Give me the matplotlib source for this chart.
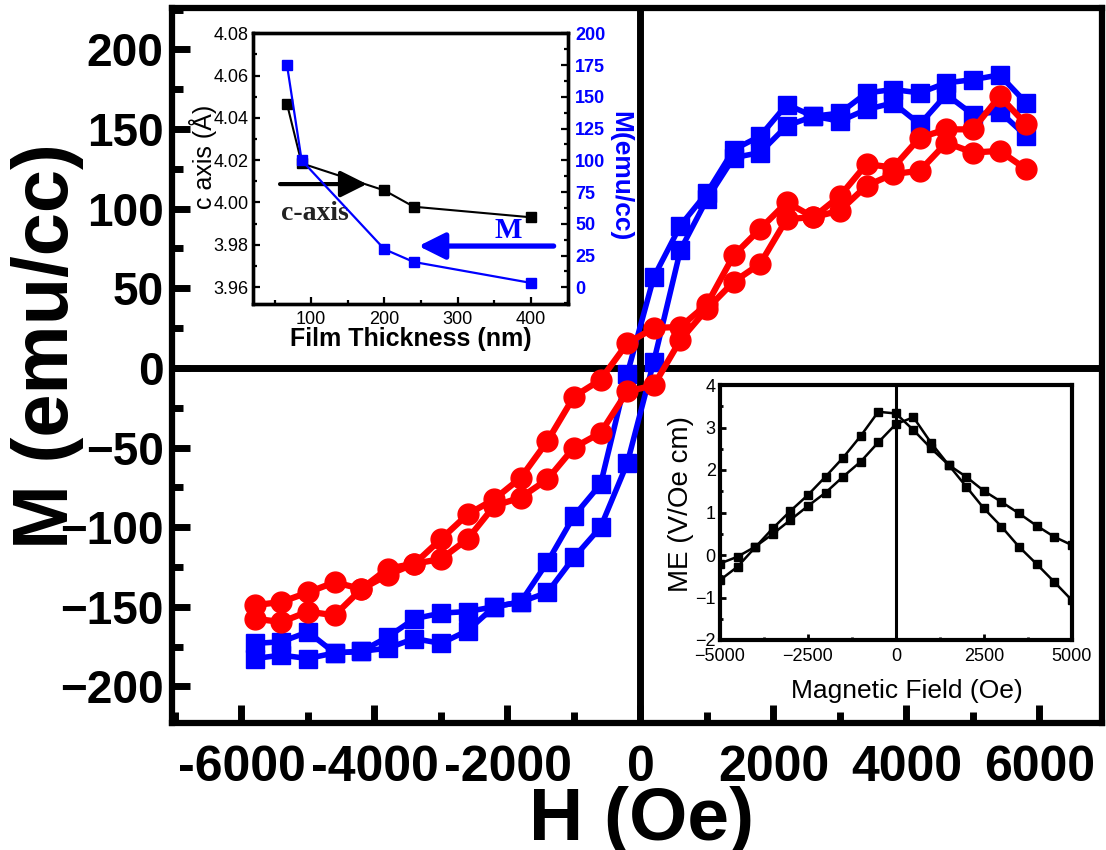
import numpy as np
import matplotlib
matplotlib.use('Agg')
import matplotlib.pyplot as plt
from matplotlib import font_manager
from matplotlib.ticker import MultipleLocator

# ---------------- data ----------------
H = [-5800, -5400, -5000, -4600, -4200, -3800, -3400, -3000, -2600, -2200,
     -1800, -1400, -1000, -600, -200, 200, 600, 1000, 1400, 1800,
     2200, 2600, 3000, 3400, 3800, 4200, 4600, 5000, 5400, 5800]

red_down = [-149, -147, -141, -134.6, -138.8, -126, -123, -107.5, -92, -82.5,
            -69, -46, -18, -7.5, 15.4, 25, 25.8, 40, 70.6, 87.3,
            104, 94.6, 108, 128, 125.8, 144.6, 149.8, 149.8, 170.6, 153]
red_up = [-157.5, -159.6, -153, -155.4, -139, -130, -123, -120, -107.5, -86.7,
          -81.4, -70, -50, -40.8, -14.8, -11, 17.5, 37, 54, 65.4,
          93.5, 94.6, 98.8, 114.4, 121.7, 123.8, 141.4, 135.2, 136.3, 124.8]

blue_down = [-173, -172, -165.8, -179, -178, -169, -157.5, -154, -153, -150,
             -147, -122, -93, -73, -4, 57, 89.4, 110, 137, 145.6,
             165.4, 158, 160, 172.7, 174.8, 172.7, 179, 181, 184, 166.4]
blue_up = [-182.5, -180.4, -182.5, -179, -178, -176, -170, -173, -165, -150,
           -147, -141, -119, -100, -60, 4, 74, 106, 132, 135.2,
           152, 158, 155, 162.3, 166.4, 153, 171.7, 159, 161, 145.6]

# inset 1: thickness dependence
thickness = [67, 87, 200, 240, 400]
c_axis = [4.0466, 4.0185, 4.0057, 3.998, 3.993]
M_thick = [175, 100, 30, 20, 3.5]

# inset 2: magnetoelectric coefficient
H_me = [-5000, -4500, -4000, -3500, -3000, -2500, -2000, -1500, -1000, -500, 0,
        500, 1000, 1500, 2000, 2500, 3000, 3500, 4000, 4500, 5000]
me_down = [-0.59, -0.275, 0.18, 0.627, 1.035, 1.412, 1.843, 2.29, 2.8, 3.37, 3.33,
           2.94, 2.51, 2.12, 1.84, 1.51, 1.25, 0.98, 0.69, 0.43, 0.235]
me_up = [-0.2, -0.04, 0.195, 0.494, 0.824, 1.153, 1.466, 1.843, 2.196, 2.65, 3.08,
         3.24, 2.64, 2.12, 1.61, 1.10, 0.67, 0.195, -0.21, -0.63, -1.06]

# ---------------- fonts ----------------
names = {f.name for f in font_manager.fontManager.ttflist}
sans = 'Liberation Sans' if 'Liberation Sans' in names else 'DejaVu Sans'
serif = 'Liberation Serif' if 'Liberation Serif' in names else 'DejaVu Serif'
plt.rcParams['font.family'] = [sans, 'DejaVu Sans']

W, Hpx = 1106, 850
fig = plt.figure(figsize=(W / 100, Hpx / 100), dpi=100, facecolor='white')


def box(l, t, r, b):
    return [l / W, 1 - b / Hpx, (r - l) / W, (b - t) / Hpx]


# ---------------- main axes ----------------
ax = fig.add_axes(box(172, 8, 1102, 723))
ax.plot(H, blue_down, '-s', color='#0000ff', lw=4, ms=13.5, zorder=3)
ax.plot(H, blue_up, '-s', color='#0000ff', lw=4, ms=13.5, zorder=3)
ax.plot(H, red_down, '-o', color='#ff0000', lw=4.5, ms=15, zorder=4)
ax.plot(H, red_up, '-o', color='#ff0000', lw=4.5, ms=15, zorder=4)
ax.axhline(0, color='black', lw=5, zorder=2)
ax.axvline(0, color='black', lw=5, zorder=2)

ax.set_xlim(-7045, 6940)
ax.set_ylim(-223, 226)
for s in ax.spines.values():
    s.set_linewidth(4.5)
ax.xaxis.set_major_locator(MultipleLocator(2000))
ax.xaxis.set_minor_locator(MultipleLocator(1000))
ax.yaxis.set_major_locator(MultipleLocator(50))
ax.yaxis.set_minor_locator(MultipleLocator(25))
ax.tick_params(axis='both', which='both', direction='in', width=5)
ax.tick_params(axis='both', which='major', length=13)
ax.tick_params(axis='both', which='minor', length=8)
ax.tick_params(axis='y', pad=6)
ax.tick_params(axis='x', pad=16)
for lab in ax.get_yticklabels():
    lab.set_fontsize(33)
    lab.set_fontweight('bold')
ax.set_xticks([-6000, -4000, -2000, 0, 2000, 4000, 6000])
ax.set_xticklabels(['-6000', '-4000', '-2000', '0', '2000', '4000', '6000'],
                   fontsize=36, fontweight='bold')
ax.set_ylabel('M (emu/cc)', fontsize=56, fontweight='bold', va='center')
ax.yaxis.set_label_coords((47 - 172) / 930, 1 - (346 - 8) / 715)
ax.set_xlabel('H (Oe)', fontsize=54, fontweight='bold', va='baseline')
ax.xaxis.set_label_coords(0.505, (723 - 840) / 715)

# ---------------- inset 1: c-axis and M vs thickness ----------------
ax1 = fig.add_axes(box(253.3, 33.3, 568.3, 304))
ax1.plot(thickness, c_axis, '-s', color='black', lw=1.5, ms=6.5)
ax1.set_xlim(21, 451)
ax1.set_ylim(3.952, 4.08)
ax1r = ax1.twinx()
ax1r.plot(thickness, M_thick, '-s', color='#0000ff', lw=1.6, ms=7)
ax1r.set_ylim(-13.1, 200)
for a in (ax1, ax1r):
    for s in a.spines.values():
        s.set_linewidth(2.4)
ax1.xaxis.set_major_locator(MultipleLocator(100))
ax1.xaxis.set_minor_locator(MultipleLocator(50))
ax1.yaxis.set_major_locator(MultipleLocator(0.02))
ax1.yaxis.set_minor_locator(MultipleLocator(0.01))
ax1.yaxis.set_major_formatter('{x:.2f}')
ax1r.yaxis.set_major_locator(MultipleLocator(25))
ax1r.yaxis.set_minor_locator(MultipleLocator(12.5))
ax1.tick_params(which='both', direction='in', width=1.6, labelsize=13)
ax1.tick_params(which='major', length=5)
ax1.tick_params(which='minor', length=3)
ax1.tick_params(axis='y', pad=3.5)
ax1.tick_params(axis='x', pad=5)
ax1r.tick_params(which='both', direction='in', width=1.6, labelsize=13,
                 labelcolor='#0000ff', pad=5)
ax1r.tick_params(which='major', length=5)
ax1r.tick_params(which='minor', length=3)
for lab in ax1r.get_yticklabels():
    lab.set_fontweight('bold')
ax1.set_xlabel('Film Thickness (nm)', fontsize=18, fontweight='bold', va='center')
ax1.xaxis.set_label_coords(0.5, (304 - 339) / 270.7)
ax1.set_ylabel('c axis (Å)', fontsize=18, va='center')
ax1.yaxis.set_label_coords((203 - 253.3) / 315, (304 - 157) / 270.7)
ax1r.set_ylabel('M(emu/cc)', fontsize=19, fontweight='bold', color='#0000ff',
                rotation=270, va='center')
ax1r.yaxis.set_label_coords((620 - 253.3) / 315, (304 - 176) / 270.7)

ax1.annotate('', xy=(176, 4.0087), xytext=(57.5, 4.0087),
             arrowprops=dict(arrowstyle='-|>,head_length=0.8,head_width=0.4',
                             lw=3, color='black', mutation_scale=20,
                             shrinkA=0, shrinkB=0))
ax1.text(59, 3.9917, 'c-axis', family=[serif, 'DejaVu Serif'], fontsize=20,
         fontweight='bold', color='#222222', ha='left', va='baseline')
ax1.annotate('', xy=(246.6, 3.9794), xytext=(431, 3.9794),
             arrowprops=dict(arrowstyle='-|>,head_length=0.8,head_width=0.4',
                             lw=3.8, color='#0000ff', mutation_scale=20,
                             shrinkA=0, shrinkB=0))
ax1.text(369, 3.9832, 'M', family=[serif, 'DejaVu Serif'], fontsize=21,
         fontweight='bold', color='#0000ff', ha='center', va='baseline')

# ---------------- inset 2: ME coefficient ----------------
ax2 = fig.add_axes(box(720, 385, 1071.7, 640))
ax2.plot(H_me, me_down, '-s', color='black', lw=1.8, ms=5.5)
ax2.plot(H_me, me_up, '-s', color='black', lw=1.8, ms=5.5)
ax2.axvline(0, color='black', lw=2.2)
ax2.set_xlim(-5000, 5000)
ax2.set_ylim(-2, 4)
for s in ax2.spines.values():
    s.set_linewidth(3)
ax2.xaxis.set_major_locator(MultipleLocator(2500))
ax2.xaxis.set_minor_locator(MultipleLocator(1250))
ax2.yaxis.set_major_locator(MultipleLocator(1))
ax2.yaxis.set_minor_locator(MultipleLocator(0.5))
ax2.tick_params(which='both', direction='in', width=2, labelsize=13)
ax2.tick_params(which='major', length=4)
ax2.tick_params(which='minor', length=2.5)
ax2.tick_params(axis='y', pad=3)
ax2.tick_params(axis='x', pad=6)
ax2.set_xlabel('Magnetic Field (Oe)', fontsize=19, va='baseline')
ax2.xaxis.set_label_coords(0.532, (640 - 698) / 255)
ax2.set_ylabel('ME (V/Oe cm)', fontsize=20, va='center')
ax2.yaxis.set_label_coords((681 - 720) / 351.7, (640 - 504) / 255)

fig.savefig('out.png', dpi=100, facecolor='white')
